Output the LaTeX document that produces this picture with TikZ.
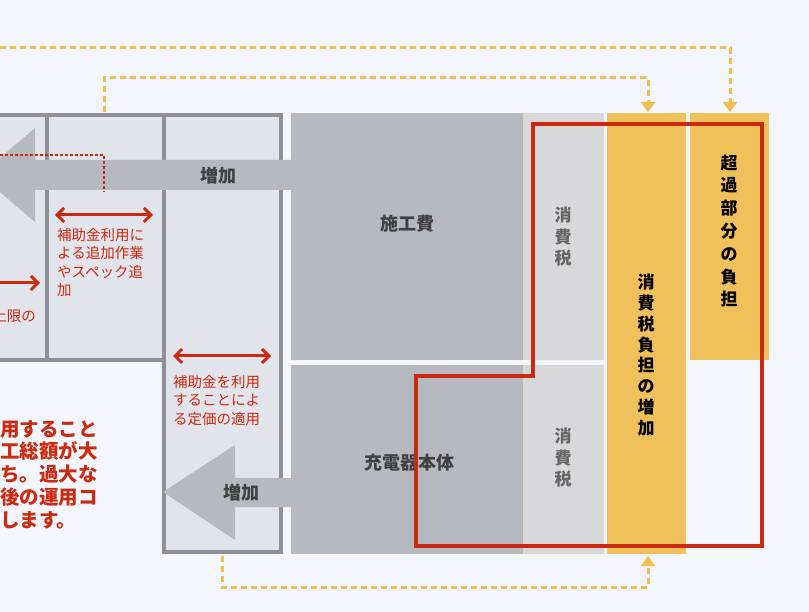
\documentclass[tikz,border=0pt]{standalone}
\usepackage{fontspec}
\setmainfont{Noto Sans CJK JP}
\usetikzlibrary{arrows.meta}
\definecolor{bg}{HTML}{F3F7FD}
\definecolor{panel}{HTML}{E1E4EA}
\definecolor{frame}{HTML}{8E9199}
\definecolor{block}{HTML}{B6B9C0}
\definecolor{tax}{HTML}{D8D8DA}
\definecolor{gold}{HTML}{F0C05A}
\definecolor{dash}{HTML}{F0BE4C}
\definecolor{redline}{HTML}{CC2A10}
\tikzset{
  box/.style={draw=frame, line width=4pt, fill=panel},
  flow/.style={draw=dash, line width=3pt, dash pattern=on 6pt off 4pt},
  redtext/.style={text=redline, font=\fontsize{14.5}{18.5}\selectfont, align=left, anchor=north west, inner sep=0pt},
  vtext/.style={font=\bfseries\fontsize{18}{22}\selectfont, align=center},
  dbl/.style={draw=redline, line width=3pt, {Straight Barb[length=7pt,width=14pt]}-{Straight Barb[length=7pt,width=14pt]}}
}
\begin{document}
\begin{tikzpicture}[x=1pt, y=-1pt]
	\useasboundingbox (0,0) rectangle (809,612);
	\fill[bg] (0,0) rectangle (809,612);
	
	% left frames
	\draw[box] (-10,115) rectangle (47,360);
	\draw[box] (47,115) rectangle (164,360);
	\draw[box] (164,115) rectangle (281,552);
	
	% cost blocks
	\fill[block] (291,113) rectangle (523,360);
	\fill[block] (291,365) rectangle (523,554);
	\fill[tax] (523,113) rectangle (604,360);
	\fill[tax] (523,365) rectangle (604,554);
	\fill[gold] (607,113) rectangle (686,554);
	\fill[gold] (690,113) rectangle (769,360);
	\node[vtext, text=black!75] (kouji) at (407,224) {施工費};
	\node[vtext, text=black!75] (honbai) at (409,463) {充電器本体};
	\node[vtext, font=\bfseries\fontsize{17}{21.5}\selectfont, text=black!60] (tax1) at (563,237) {消\\費\\税};
	\node[vtext, font=\bfseries\fontsize{17}{21.5}\selectfont, text=black!60] (tax2) at (563,458) {消\\費\\税};
	\node[vtext, font=\bfseries\fontsize{17}{20.8}\selectfont] (taxup) at (646,355) {消\\費\\税\\負\\担\\の\\増\\加};
	\node[vtext, font=\bfseries\fontsize{17}{22.8}\selectfont] (excess) at (729,231) {超\\過\\部\\分\\の\\負\\担};
	
	% increase arrows
	\fill[block] (291,160) -- (35,160) -- (35,128) -- (-20,175) -- (35,222) -- (35,190) -- (291,190) -- cycle;
	\node[vtext, text=black!75] (inc1) at (218,176) {増加};
	\fill[block] (291,478) -- (235,478) -- (235,445) -- (163,492) -- (235,540) -- (235,507) -- (291,507) -- cycle;
	\node[vtext, text=black!75] (inc2) at (241,493) {増加};
	
	% red outline
	\draw[redline, line width=4pt] (533,124) -- (762,124) -- (762,546) -- (416,546) -- (416,376) -- (533,376) -- cycle;
	
	% red dashed
	\coordinate (rd1) at (0,155);
	\coordinate (rd2) at (104,192);
	\draw[redline, line width=1.2pt, dash pattern=on 3pt off 2pt] (rd1) -| (rd2);
	
	% yellow connectors
	\coordinate (y1) at (104,112);
	\coordinate (y2) at (648,112);
	\draw[flow, -{Triangle[length=10pt,width=14pt]}] (y1) -- (104,78) -- (648,78) -- (y2);
	\coordinate (y3) at (0,48);
	\coordinate (y4) at (730,112);
	\draw[flow, -{Triangle[length=10pt,width=14pt]}] (y3) -- (730,48) -- (y4);
	\coordinate (y5) at (222,556);
	\coordinate (y6) at (648,556);
	\draw[flow, -{Triangle[length=10pt,width=14pt]}] (y5) -- (222,587) -- (648,587) -- (y6);
	
	% red annotations
	\coordinate (a1) at (55,215);
	\coordinate (a2) at (153,215);
	\draw[dbl] (a1) -- (a2);
	\coordinate (a3) at (173,356);
	\coordinate (a4) at (271,356);
	\draw[dbl] (a3) -- (a4);
	\coordinate (a5) at (-5,283);
	\coordinate (a6) at (40,283);
	\draw[redline, line width=3pt, -{Straight Barb[length=7pt,width=14pt]}] (a5) -- (a6);
	\node[redtext] (note1) at (57,228) {補助金利用に\\よる追加作業\\やスペック追\\加};
	\node[redtext, anchor=north east] (note2) at (36,309) {上限の};
	\node[redtext] (note3) at (173,375) {補助金を利用\\することによ\\る定価の適用};
	\node[redtext, font=\bfseries\fontsize{19.5}{22.8}\selectfont] (note4) at (0,420) {用すること\\工総額が大\\ち。過大な\\後の運用コ\\します。};
\end{tikzpicture}
\end{document}
